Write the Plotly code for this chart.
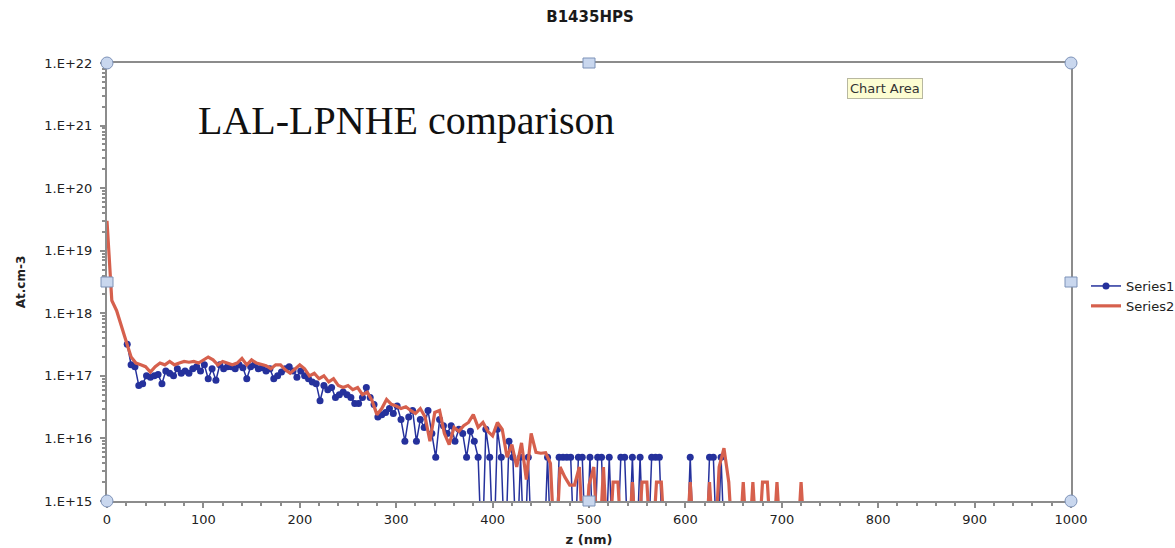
import plotly.graph_objects as go

# ---------------- data ----------------
title_text = "B1435HPS"
x_title = "z (nm)"
y_title = "At.cm-3"
annotation_text = "LAL-LPNHE comparison"

# Series1 (blue, markers) : depth start / step in nm
s1_z_start, s1_z_step = 21, 4
series1 = [
    # z 21 .. 197
    3.2e17, 1.5e17, 1.4e17, 7e16, 7.5e16, 1.0e17, 9.5e16, 1.0e17, 1.05e17, 7.5e16,
    1.2e17, 1.1e17, 1.0e17, 1.3e17, 1.1e17, 1.2e17, 1.1e17, 1.3e17, 1.4e17, 1.2e17,
    1.5e17, 9e16, 1.3e17, 8.5e16, 1.5e17, 1.3e17, 1.4e17, 1.4e17, 1.3e17, 1.5e17,
    1.35e17, 9e16, 1.4e17, 1.5e17, 1.3e17, 1.35e17, 1.2e17, 1.3e17, 9e16, 1.0e17,
    1.15e17, 1.3e17, 1.4e17, 1.2e17, 9.5e16,
    # z 201 .. 269
    1.2e17, 1.0e17, 9e16, 8e16, 7.5e16, 4e16, 7e16, 6e16, 6.5e16, 4.5e16,
    5e16, 5.5e16, 5e16, 4.5e16, 3.6e16, 3.6e16, 4.5e16, 6.5e16,
    # z 273 .. 341
    4.5e16, 3.5e16, 2.2e16, 2.4e16, 2.6e16, 3e16, 2.5e16, 3.3e16, 2e16, 9e15,
    2.2e16, 2.8e16, 9e15, 2e16, 1.5e16, 2.8e16, 1.2e16, 5e15,
    # z 345 .. 409
    2e16, 1.6e16, 1.2e16, 1.6e16, 9e15, 1.4e16, 1.2e16, 5e15, 1.3e16, 9e15,
    5e15, 1e14, 1.4e16, 5e15, 1e14, 1.4e16, 5e15,
    # z 413 .. 473
    1e14, 9e15, 5e15, 1e14, 5e15, 1e14, 5e15, 1e14, 1e14, 1e14,
    1e14, 5e15, 1e14, 1e14, 5e15, 5e15,
    # z 477 .. 641
    5e15, 5e15, 1e14, 5e15, 5e15, 1e14, 5e15, 1e14, 5e15, 5e15,
    1e14, 5e15, 1e14, 1e14, 5e15, 5e15, 1e14, 5e15, 1e14, 5e15,
    1e14, 1e14, 5e15, 5e15, 5e15, 1e14, 1e14, 1e14, 1e14, 1e14,
    1e14, 1e14, 5e15, 1e14, 1e14, 1e14, 1e14, 5e15, 5e15, 1e14,
    5e15, 1e14,
]

# Series2 (red line)
s2_z_start, s2_z_step = 0, 5
series2 = [
    # z 0 .. 200
    3e19, 1.6e18, 1.1e18, 6e17, 3.5e17, 2e17, 1.6e17, 1.5e17, 1.4e17, 1.15e17,
    1.4e17, 1.6e17, 1.5e17, 1.7e17, 1.5e17, 1.6e17, 1.7e17, 1.65e17, 1.7e17, 1.6e17,
    1.8e17, 2e17, 1.8e17, 1.5e17, 1.7e17, 1.6e17, 1.5e17, 1.6e17, 1.9e17, 1.5e17,
    1.8e17, 1.6e17, 1.5e17, 1.45e17, 1.3e17, 1.5e17, 1.5e17, 1.25e17, 1.1e17, 1.3e17,
    1.5e17,
    # z 205 .. 400
    1.3e17, 1.0e17, 1.1e17, 9e16, 1.0e17, 8e16, 9e16, 7e16, 6.5e16, 7e16,
    6e16, 6.5e16, 5e16, 5.5e16, 4e16, 2.4e16, 3e16, 4.2e16, 3.5e16, 3.3e16,
    3e16, 3.2e16, 2.8e16, 2.5e16, 3e16, 2.2e16, 9e15, 2.6e16, 2.8e16, 1.2e16,
    8e15, 1.5e16, 1.3e16, 1.6e16, 1.8e16, 2.4e16, 1.5e16, 1.8e16, 1.3e16, 1.1e16,
    # z 405 .. 600
    1.8e16, 1.4e16, 5e15, 8e15, 3.5e15, 8.5e15, 2.2e15, 1.2e16, 6e15, 5.8e15,
    5.9e15, 4e15, 1e14, 3.5e15, 2.4e15, 1.8e15, 1.8e15, 3.5e15, 1e14, 1.8e15,
    3.5e15, 1e14, 3.5e15, 1e14, 2e15, 2e15, 1e14, 1e14, 2e15, 1e14,
    2e15, 2e15, 1e14, 2e15, 2e15, 1e14, 1e14, 1e14, 1e14, 1e14,
    # z 605 .. 725
    2e15, 1e14, 1e14, 1e14, 2e15, 1e14, 3.5e15, 7e15, 2e15, 1e14,
    1e14, 2e15, 1e14, 2e15, 1e14, 2e15, 2e15, 1e14, 2e15, 1e14,
    1e14, 1e14, 1e14, 2e15, 1e14,
]

z1 = [s1_z_start + s1_z_step * i for i in range(len(series1))]
z2 = [s2_z_start + s2_z_step * i for i in range(len(series2))]

y_tick_vals = [1e15, 1e16, 1e17, 1e18, 1e19, 1e20, 1e21, 1e22]
y_tick_text = ["1.E+15", "1.E+16", "1.E+17", "1.E+18", "1.E+19", "1.E+20", "1.E+21", "1.E+22"]
y_minor_vals = [float(k) * 10.0 ** e for e in range(15, 22) for k in range(2, 10)]

# ---------------- figure ----------------
W, H = 1175, 548
L, R, T, B = 107, 104, 63, 47

blue = "#25319c"
red = "#d6604d"
axis_gray = "#8c8c8c"
sans = "DejaVu Sans, Verdana, sans-serif"

fig = go.Figure()
fig.add_trace(go.Scatter(
    x=z1, y=series1, name="Series1", mode="lines+markers",
    line=dict(color=blue, width=1.5),
    marker=dict(color=blue, size=7),
))
fig.add_trace(go.Scatter(
    x=z2, y=series2, name="Series2", mode="lines",
    line=dict(color=red, width=3.2),
))

fig.update_layout(
    width=W, height=H,
    margin=dict(l=L, r=R, t=T, b=B, autoexpand=False),
    paper_bgcolor="white", plot_bgcolor="white",
    font=dict(family=sans, color="#222"),
    title=dict(text="<b>" + title_text + "</b>", x=(590 - 0) / W, xanchor="center",
               y=1 - 17 / H, yanchor="middle", font=dict(family=sans, size=15, color="#1a1a1a")),
    showlegend=True,
    legend=dict(x=1 + (1086 - (W - R)) / (W - L - R), xanchor="left",
                y=1 - (296 - T) / (H - T - B), yanchor="middle",
                font=dict(family=sans, size=13, color="#222"), bgcolor="rgba(0,0,0,0)",
                tracegroupgap=0, itemwidth=30),
)

fig.update_xaxes(
    type="linear", range=[0, 1000], dtick=100, tick0=0,
    showgrid=False, zeroline=False,
    showline=True, linecolor=axis_gray, linewidth=2, mirror=True,
    ticks="outside", ticklen=5, tickcolor=axis_gray, tickwidth=1.5,
    minor=dict(ticks="outside", dtick=20, ticklen=3, tickcolor=axis_gray, showgrid=False),
    tickfont=dict(family=sans, size=13, color="#222"),
    title=dict(text="<b>" + x_title + "</b>", font=dict(family=sans, size=13, color="#222"), standoff=9),
)
fig.update_yaxes(
    type="log", range=[15, 22],
    tickmode="array", tickvals=y_tick_vals, ticktext=y_tick_text,
    showgrid=False, zeroline=False,
    showline=True, linecolor=axis_gray, linewidth=2, mirror=True,
    ticks="outside", ticklen=5, tickcolor=axis_gray, tickwidth=1.5,
    minor=dict(ticks="outside", tickmode="array", tickvals=y_minor_vals, ticklen=3,
               tickcolor=axis_gray, showgrid=False),
    ticklabelstandoff=5,
    tickfont=dict(family=sans, size=13, color="#222"),
    title=dict(text="<b>" + y_title + "</b>", font=dict(family=sans, size=12, color="#222"), standoff=16),
)

# main text annotation
fig.add_annotation(
    text=annotation_text, xref="paper", yref="paper",
    x=(196 - L) / (W - L - R), y=1 - (121 - T) / (H - T - B),
    xanchor="left", yanchor="middle", showarrow=False,
    font=dict(family="Liberation Serif, Times New Roman, serif", size=40, color="#111"),
)

# "Chart Area" tooltip
fig.add_annotation(
    text="Chart Area", xref="paper", yref="paper",
    x=(885 - L) / (W - L - R), y=1 - (89 - T) / (H - T - B),
    xanchor="center", yanchor="middle", showarrow=False,
    font=dict(family=sans, size=13, color="#333"),
    bgcolor="#fdfdd2", bordercolor="#b8b8a0", borderwidth=1, borderpad=2,
)

# selection handles (circles at corners, squares at mid edges)
handle_fill = "#c9d7ee"
handle_line = "#7d92b8"
for hx, hy in [(0, 0), (1, 0), (0, 1), (1, 1)]:
    fig.add_shape(type="circle", xref="paper", yref="paper",
                  xsizemode="pixel", ysizemode="pixel",
                  xanchor=hx, yanchor=hy, x0=-6, x1=6, y0=-6, y1=6,
                  fillcolor=handle_fill, line=dict(color=handle_line, width=1))
for hx, hy in [(0.5, 0), (0.5, 1), (0, 0.5), (1, 0.5)]:
    fig.add_shape(type="rect", xref="paper", yref="paper",
                  xsizemode="pixel", ysizemode="pixel",
                  xanchor=hx, yanchor=hy, x0=-6, x1=6, y0=-5, y1=5,
                  fillcolor=handle_fill, line=dict(color=handle_line, width=1))

fig.write_html("out.html")
